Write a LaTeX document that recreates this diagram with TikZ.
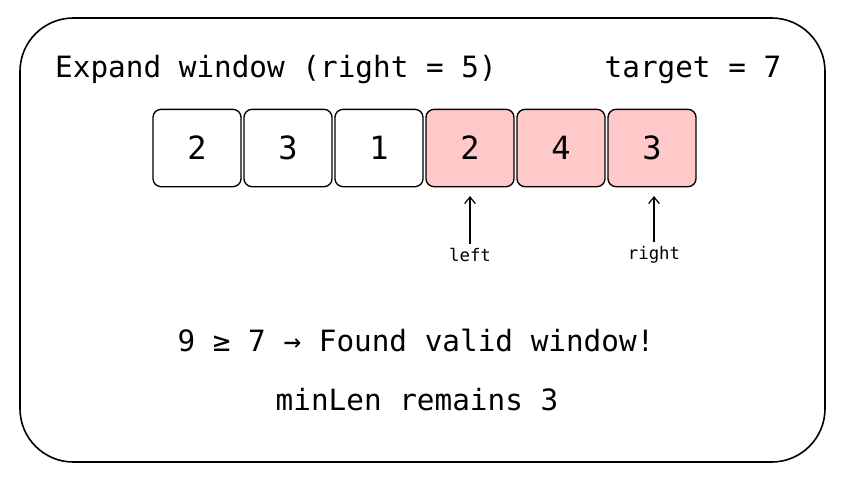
\documentclass[tikz,border=0pt]{standalone}
\usepackage{fontspec}
\setmainfont{DejaVu Sans Mono}
\usetikzlibrary{positioning,arrows.meta}
\definecolor{winpink}{HTML}{FFC9C9}
\tikzset{
  cell/.style   = {draw, rounded corners=6pt, line width=1pt,
                   minimum width=66pt, minimum height=58pt,
                   font=\fontsize{24}{28}\selectfont},
  inwin/.style  = {cell, fill=winpink},
  txt/.style    = {font=\fontsize{22}{26}\selectfont},
  tag/.style    = {font=\fontsize{13}{15}\selectfont}
}
\begin{document}
\begin{tikzpicture}[x=0.75pt,y=-0.75pt]
  \useasboundingbox (0,0) rectangle (844,480);
  \draw[line width=1.2pt, rounded corners=40pt] (20,18) rectangle (825,462);
  \node[txt] (title) at (276,70) {Expand window (right = 5)};
  \node[txt] (target) at (693,70) {target = 7};
  % array cells
  \node[cell]  (c0) at (197,148) {2};
  \node[cell]  (c1) at (288,148) {3};
  \node[cell]  (c2) at (379,148) {1};
  \node[inwin] (c3) at (470,148) {2};
  \node[inwin] (c4) at (561,148) {4};
  \node[inwin] (c5) at (652,148) {3};
  % pointers
  \node[tag] (left)  at (470,255) {left};
  \node[tag] (right) at (654,255) {right};
  \draw[-{Straight Barb[length=5pt,width=8pt]}, line width=0.9pt] (left.north) -- (470,196);
  \draw[-{Straight Barb[length=5pt,width=8pt]}, line width=0.9pt] (right.north) -- (654,196);
  \node[txt] (found) at (416,340) {9 ≥ 7 → Found valid window!};
  \node[txt] (minlen) at (417,400) {minLen remains 3};
\end{tikzpicture}
\end{document}
